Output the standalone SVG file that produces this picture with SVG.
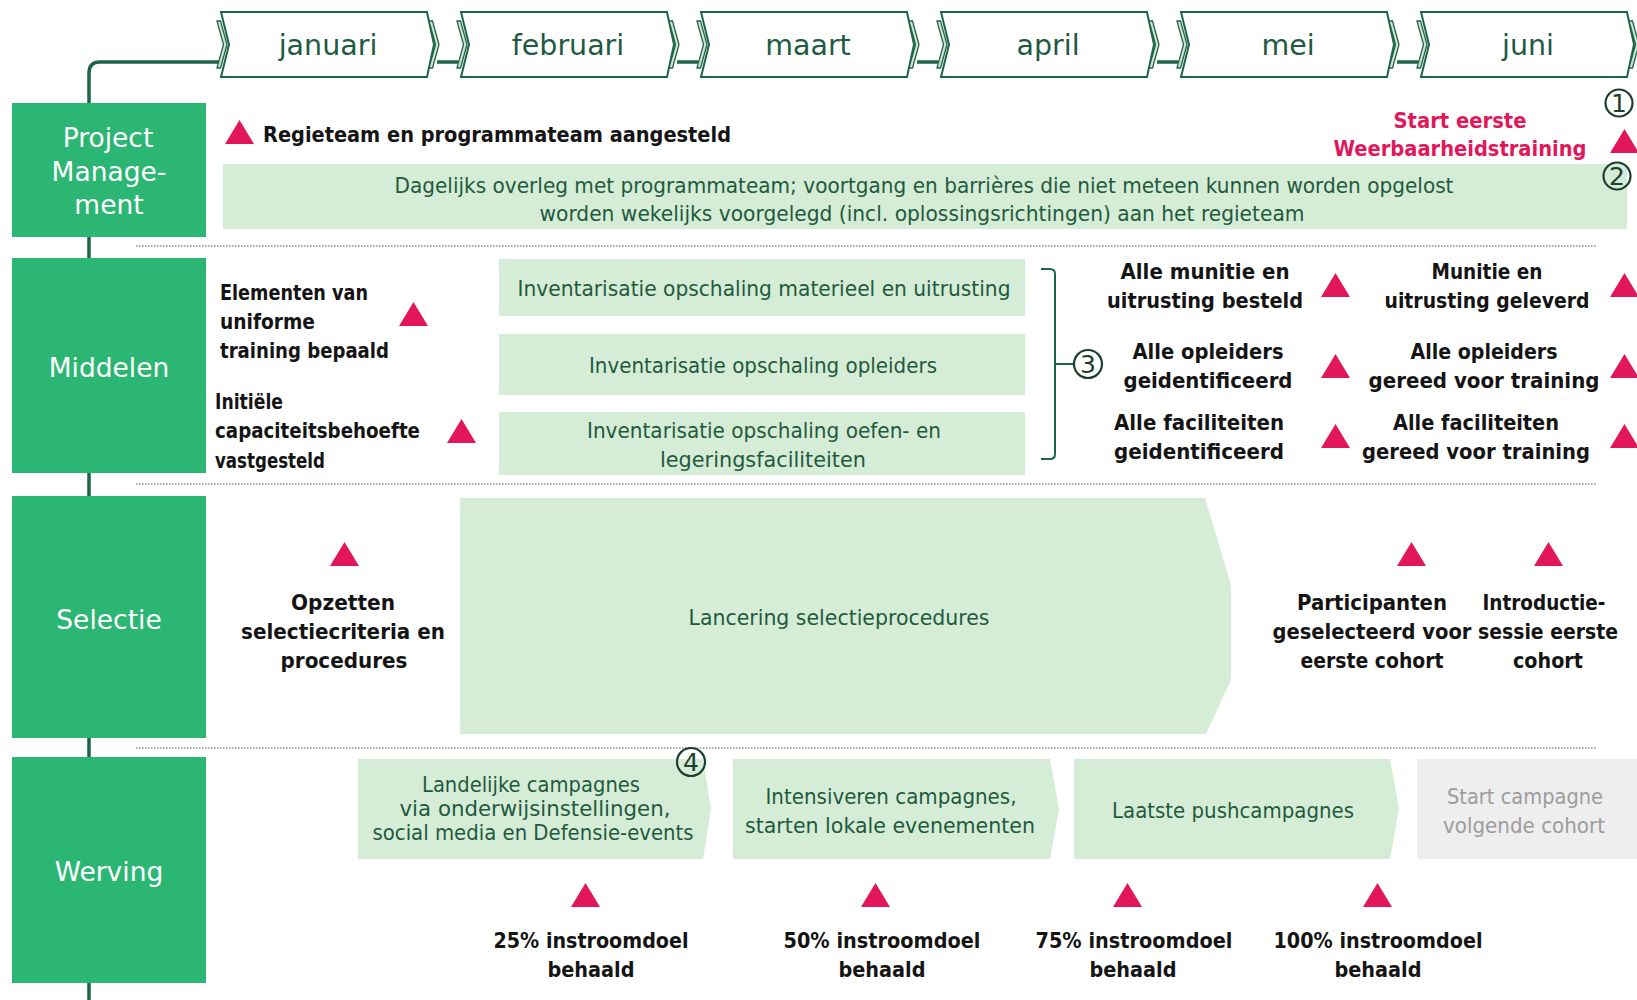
<svg xmlns="http://www.w3.org/2000/svg" width="1637" height="1000" viewBox="0 0 1637 1000">
<style>
  text { font-family: 'DejaVu Sans', 'Liberation Sans', sans-serif; }
  .cat rect { fill: #2cb673; }
  .cat text { fill: #ffffff; font-size: 26.5px; text-anchor: middle; }
  .mon { fill: #ffffff; stroke: #1f6447; stroke-width: 2; }
  .band { fill: #cfe5d6; stroke: #1f6447; stroke-width: 1.3; }
  .mtxt { fill: #1e5a42; font-size: 28.5px; text-anchor: middle; }
  .line { fill: none; stroke: #1f6447; stroke-width: 3.5; }
  .thin { fill: none; stroke: #1f6447; stroke-width: 2; }
  .sep { stroke: #8c8c8c; stroke-width: 1.5; stroke-dasharray: 1.5 1.5; }
  .bar { fill: #d5ecd7; }
  .grey { fill: #eeeeee; }
  .gt { fill: #1f5a3c; font-size: 21.5px; text-anchor: middle; }
  .gx { fill: #9c9c9c; font-size: 21.5px; text-anchor: middle; }
  .bt { fill: #141414; font-size: 21px; font-weight: bold; }
  .c { text-anchor: middle; }
  .pink { fill: #e2175b; }
  .tri { fill: #e2175b; }
  .num circle { fill: none; stroke: #1c3f30; stroke-width: 2.2; }
  .num text { fill: #1c3f30; font-size: 25px; text-anchor: middle; }
</style>
<defs>
  <path id="tri" d="M0,24 L14.5,0 L29,24 Z"/>
  <g id="month">
    <path class="band" d="M1,21 H4.5 L11,44.5 L4.5,68 H1 L7.5,44.5 Z"/>
    <path class="mon" d="M5,12 H211 L218,44.5 L211,77 H5 L13,44.5 Z"/>
    <path class="band" d="M213,21 H216.5 L223,44.5 L216.5,68 H213 L219.5,44.5 Z"/>
  </g>
</defs>
<rect width="1637" height="1000" fill="#ffffff"/>

<!-- timeline spine and links between the month tabs -->
<g id="connectors">
  <path class="line" d="M89,1000 V73 Q89,62 100,62 H219"/>
  <path class="line" d="M437,62 H458"/>
  <path class="line" d="M677,62 H698"/>
  <path class="line" d="M917,62 H938"/>
  <path class="line" d="M1157,62 H1178"/>
  <path class="line" d="M1397,62 H1418"/>
  <path class="thin" d="M1041,269 H1050 Q1055,269 1055,274 V454 Q1055,459 1050,459 H1041"/>
  <path class="thin" d="M1055,364 H1074"/>
</g>

<!-- month tabs -->
<g id="m-januari"><use href="#month" x="216"/><text class="mtxt" x="328" y="55">januari</text></g>
<g id="m-februari"><use href="#month" x="456"/><text class="mtxt" x="568" y="55">februari</text></g>
<g id="m-maart"><use href="#month" x="696"/><text class="mtxt" x="808" y="55">maart</text></g>
<g id="m-april"><use href="#month" x="936"/><text class="mtxt" x="1048" y="55">april</text></g>
<g id="m-mei"><use href="#month" x="1176"/><text class="mtxt" x="1288" y="55">mei</text></g>
<g id="m-juni"><use href="#month" x="1416"/><text class="mtxt" x="1528" y="55">juni</text></g>

<!-- row separators -->
<g id="separators">
  <line class="sep" x1="136" y1="246" x2="1597" y2="246"/>
  <line class="sep" x1="136" y1="484" x2="1597" y2="484"/>
  <line class="sep" x1="136" y1="748" x2="1597" y2="748"/>
</g>

<!-- lane headers -->
<g id="lane-pm" class="cat"><rect x="12" y="103" width="194" height="134"/>
  <text x="108" y="147">Project</text><text x="109" y="181">Manage-</text><text x="109" y="214">ment</text></g>
<g id="lane-middelen" class="cat"><rect x="12" y="258" width="194" height="215"/><text x="109" y="377">Middelen</text></g>
<g id="lane-selectie" class="cat"><rect x="12" y="496" width="194" height="242"/><text x="109" y="629">Selectie</text></g>
<g id="lane-werving" class="cat"><rect x="12" y="757" width="194" height="226"/><text x="109" y="881">Werving</text></g>

<!-- Project Management -->
<g id="pm-regieteam">
  <use href="#tri" class="tri" x="225" y="120"/>
  <text class="bt" x="263" y="142" textLength="468" lengthAdjust="spacingAndGlyphs">Regieteam en programmateam aangesteld</text>
</g>
<g id="pm-overleg">
  <rect class="bar" x="223" y="164" width="1404" height="65"/>
  <text class="gt" x="924" y="193" textLength="1059" lengthAdjust="spacingAndGlyphs">Dagelijks overleg met programmateam; voortgang en barrières die niet meteen kunnen worden opgelost</text>
  <text class="gt" x="922" y="221" textLength="765" lengthAdjust="spacingAndGlyphs">worden wekelijks voorgelegd (incl. oplossingsrichtingen) aan het regieteam</text>
</g>
<g id="pm-training">
  <text class="bt c pink" x="1460" y="128" textLength="133" lengthAdjust="spacingAndGlyphs">Start eerste</text>
  <text class="bt c pink" x="1460" y="156" textLength="253" lengthAdjust="spacingAndGlyphs">Weerbaarheidstraining</text>
  <use href="#tri" class="tri" x="1610" y="129"/>
</g>
<g id="note-1" class="num"><circle cx="1619" cy="103" r="13.5"/><text x="1619" y="112">1</text></g>
<g id="note-2" class="num"><circle cx="1617" cy="176" r="13.5"/><text x="1617" y="185">2</text></g>

<!-- Middelen -->
<g id="mid-elementen">
  <text class="bt" x="220" y="300" textLength="148" lengthAdjust="spacingAndGlyphs">Elementen van</text>
  <text class="bt" x="220" y="329" textLength="95" lengthAdjust="spacingAndGlyphs">uniforme</text>
  <text class="bt" x="220" y="358" textLength="169" lengthAdjust="spacingAndGlyphs">training bepaald</text>
  <use href="#tri" class="tri" x="399" y="302"/>
</g>
<g id="mid-capaciteit">
  <text class="bt" x="215" y="409" textLength="68" lengthAdjust="spacingAndGlyphs">Initiële</text>
  <text class="bt" x="215" y="438" textLength="205" lengthAdjust="spacingAndGlyphs">capaciteitsbehoefte</text>
  <text class="bt" x="215" y="468" textLength="110" lengthAdjust="spacingAndGlyphs">vastgesteld</text>
  <use href="#tri" class="tri" x="447" y="419"/>
</g>
<g id="mid-inv-materieel">
  <rect class="bar" x="499" y="259" width="526" height="57"/>
  <text class="gt" x="764" y="296" textLength="493" lengthAdjust="spacingAndGlyphs">Inventarisatie opschaling materieel en uitrusting</text>
</g>
<g id="mid-inv-opleiders">
  <rect class="bar" x="499" y="334" width="526" height="61"/>
  <text class="gt" x="763" y="373" textLength="348" lengthAdjust="spacingAndGlyphs">Inventarisatie opschaling opleiders</text>
</g>
<g id="mid-inv-faciliteiten">
  <rect class="bar" x="499" y="412" width="526" height="63"/>
  <text class="gt" x="764" y="438" textLength="354" lengthAdjust="spacingAndGlyphs">Inventarisatie opschaling oefen- en</text>
  <text class="gt" x="763" y="467" textLength="206" lengthAdjust="spacingAndGlyphs">legeringsfaciliteiten</text>
</g>
<g id="note-3" class="num"><circle cx="1088" cy="364" r="14"/><text x="1088" y="373">3</text></g>

<g id="mid-munitie-besteld">
  <text class="bt c" x="1205" y="279" textLength="169" lengthAdjust="spacingAndGlyphs">Alle munitie en</text>
  <text class="bt c" x="1205" y="308" textLength="196" lengthAdjust="spacingAndGlyphs">uitrusting besteld</text>
  <use href="#tri" class="tri" x="1321" y="273"/>
</g>
<g id="mid-opleiders-id">
  <text class="bt c" x="1208" y="359" textLength="151" lengthAdjust="spacingAndGlyphs">Alle opleiders</text>
  <text class="bt c" x="1208" y="388" textLength="169" lengthAdjust="spacingAndGlyphs">geidentificeerd</text>
  <use href="#tri" class="tri" x="1321" y="354"/>
</g>
<g id="mid-faciliteiten-id">
  <text class="bt c" x="1199" y="430" textLength="170" lengthAdjust="spacingAndGlyphs">Alle faciliteiten</text>
  <text class="bt c" x="1199" y="459" textLength="170" lengthAdjust="spacingAndGlyphs">geidentificeerd</text>
  <use href="#tri" class="tri" x="1321" y="424"/>
</g>
<g id="mid-munitie-geleverd">
  <text class="bt c" x="1487" y="279" textLength="111" lengthAdjust="spacingAndGlyphs">Munitie en</text>
  <text class="bt c" x="1487" y="308" textLength="205" lengthAdjust="spacingAndGlyphs">uitrusting geleverd</text>
  <use href="#tri" class="tri" x="1610" y="273"/>
</g>
<g id="mid-opleiders-gereed">
  <text class="bt c" x="1484" y="359" textLength="147" lengthAdjust="spacingAndGlyphs">Alle opleiders</text>
  <text class="bt c" x="1484" y="388" textLength="231" lengthAdjust="spacingAndGlyphs">gereed voor training</text>
  <use href="#tri" class="tri" x="1610" y="354"/>
</g>
<g id="mid-faciliteiten-gereed">
  <text class="bt c" x="1476" y="430" textLength="166" lengthAdjust="spacingAndGlyphs">Alle faciliteiten</text>
  <text class="bt c" x="1476" y="459" textLength="228" lengthAdjust="spacingAndGlyphs">gereed voor training</text>
  <use href="#tri" class="tri" x="1610" y="424"/>
</g>

<!-- Selectie -->
<g id="sel-opzetten">
  <use href="#tri" class="tri" x="330" y="542"/>
  <text class="bt c" x="343" y="610" textLength="104" lengthAdjust="spacingAndGlyphs">Opzetten</text>
  <text class="bt c" x="343" y="639" textLength="204" lengthAdjust="spacingAndGlyphs">selectiecriteria en</text>
  <text class="bt c" x="344" y="668" textLength="127" lengthAdjust="spacingAndGlyphs">procedures</text>
</g>
<g id="sel-lancering">
  <path class="bar" d="M460,498 H1205 L1231,585 V680 L1206,734 H460 Z"/>
  <text class="gt" x="839" y="625" textLength="301" lengthAdjust="spacingAndGlyphs">Lancering selectieprocedures</text>
</g>
<g id="sel-participanten">
  <use href="#tri" class="tri" x="1397" y="542"/>
  <text class="bt c" x="1372" y="610" textLength="150" lengthAdjust="spacingAndGlyphs">Participanten</text>
  <text class="bt c" x="1372" y="639" textLength="199" lengthAdjust="spacingAndGlyphs">geselecteerd voor</text>
  <text class="bt c" x="1372" y="668" textLength="143" lengthAdjust="spacingAndGlyphs">eerste cohort</text>
</g>
<g id="sel-introductie">
  <use href="#tri" class="tri" x="1534" y="542"/>
  <text class="bt c" x="1544" y="610" textLength="123" lengthAdjust="spacingAndGlyphs">Introductie-</text>
  <text class="bt c" x="1548" y="639" textLength="140" lengthAdjust="spacingAndGlyphs">sessie eerste</text>
  <text class="bt c" x="1548" y="668" textLength="70" lengthAdjust="spacingAndGlyphs">cohort</text>
</g>

<!-- Werving -->
<g id="wer-landelijk">
  <path class="bar" d="M358,759 H703 L711,809 L703,859 H358 Z"/>
  <text class="gt" x="531" y="792" textLength="218" lengthAdjust="spacingAndGlyphs">Landelijke campagnes</text>
  <text class="gt" x="535" y="816" textLength="271" lengthAdjust="spacingAndGlyphs">via onderwijsinstellingen,</text>
  <text class="gt" x="533" y="840" textLength="321" lengthAdjust="spacingAndGlyphs">social media en Defensie-events</text>
</g>
<g id="note-4" class="num"><circle cx="691" cy="762" r="14"/><text x="691" y="771">4</text></g>
<g id="wer-intensiveren">
  <path class="bar" d="M733,759 H1050 L1059,809 L1050,859 H733 Z"/>
  <text class="gt" x="891" y="804" textLength="251" lengthAdjust="spacingAndGlyphs">Intensiveren campagnes,</text>
  <text class="gt" x="890" y="833" textLength="290" lengthAdjust="spacingAndGlyphs">starten lokale evenementen</text>
</g>
<g id="wer-push">
  <path class="bar" d="M1074,759 H1390 L1399,809 L1390,859 H1074 Z"/>
  <text class="gt" x="1233" y="818" textLength="242" lengthAdjust="spacingAndGlyphs">Laatste pushcampagnes</text>
</g>
<g id="wer-volgende">
  <rect class="grey" x="1417" y="759" width="220" height="100"/>
  <text class="gx" x="1525" y="804" textLength="156" lengthAdjust="spacingAndGlyphs">Start campagne</text>
  <text class="gx" x="1524" y="833" textLength="162" lengthAdjust="spacingAndGlyphs">volgende cohort</text>
</g>
<g id="wer-25">
  <use href="#tri" class="tri" x="571" y="883"/>
  <text class="bt c" x="591" y="948" textLength="195" lengthAdjust="spacingAndGlyphs">25% instroomdoel</text>
  <text class="bt c" x="591" y="977" textLength="87" lengthAdjust="spacingAndGlyphs">behaald</text>
</g>
<g id="wer-50">
  <use href="#tri" class="tri" x="861" y="883"/>
  <text class="bt c" x="882" y="948" textLength="197" lengthAdjust="spacingAndGlyphs">50% instroomdoel</text>
  <text class="bt c" x="882" y="977" textLength="87" lengthAdjust="spacingAndGlyphs">behaald</text>
</g>
<g id="wer-75">
  <use href="#tri" class="tri" x="1113" y="883"/>
  <text class="bt c" x="1134" y="948" textLength="197" lengthAdjust="spacingAndGlyphs">75% instroomdoel</text>
  <text class="bt c" x="1133" y="977" textLength="87" lengthAdjust="spacingAndGlyphs">behaald</text>
</g>
<g id="wer-100">
  <use href="#tri" class="tri" x="1363" y="883"/>
  <text class="bt c" x="1378" y="948" textLength="209" lengthAdjust="spacingAndGlyphs">100% instroomdoel</text>
  <text class="bt c" x="1378" y="977" textLength="87" lengthAdjust="spacingAndGlyphs">behaald</text>
</g>
</svg>
